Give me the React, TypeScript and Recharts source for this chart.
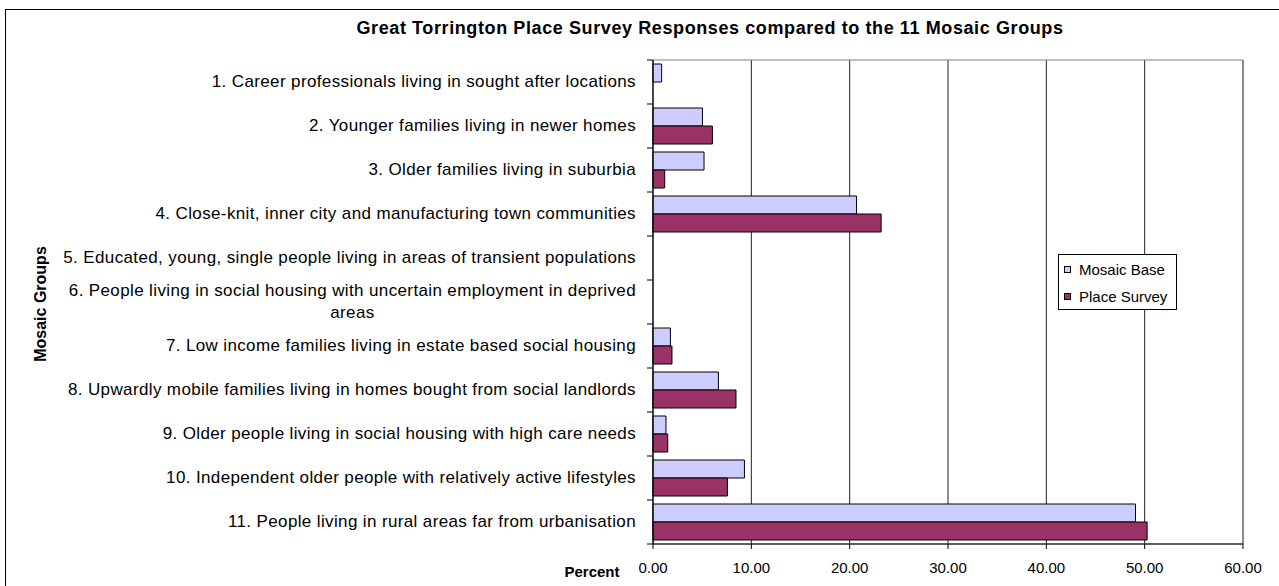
import React from 'react';
import {
  BarChart,
  Bar,
  XAxis,
  YAxis,
  CartesianGrid,
  ReferenceArea,
  Legend,
} from 'recharts';

const categories = [
  '1. Career professionals living in sought after locations',
  '2. Younger families living in newer homes',
  '3. Older families living in suburbia',
  '4. Close-knit, inner city and manufacturing town communities',
  '5. Educated, young, single people living in areas of transient populations',
  '6. People living in social housing with uncertain employment in deprived\nareas',
  '7. Low income families living in estate based social housing',
  '8. Upwardly mobile families living in homes bought from social landlords',
  '9. Older people living in social housing with high care needs',
  '10. Independent older people with relatively active lifestyles',
  '11. People living in rural areas far from urbanisation',
];

const mosaicBase = [0.88, 5.03, 5.19, 20.7, null, null, 1.77, 6.65, 1.32, 9.3, 49.07];
const placeSurvey = [null, 6.04, 1.19, 23.2, null, null, 1.93, 8.44, 1.5, 7.57, 50.25];

const xTicks = [0, 10, 20, 30, 40, 50, 60];

const seriesNames = ['Mosaic Base', 'Place Survey'];
const seriesColors = ['#CCCCFF', '#993366'];

const data = categories.map((name, i) => ({
  name,
  mosaic: mosaicBase[i],
  place: placeSurvey[i],
}));

const FONT = "'Liberation Sans', Arial, sans-serif";
const LABEL_SIZE = 17;
const LABEL_SPACING = 0.37;

let measureCtx: CanvasRenderingContext2D | null = null;
function measure(text: string): number {
  if (typeof document === 'undefined') return text.length * 8.5;
  if (!measureCtx) {
    const c = document.createElement('canvas');
    measureCtx = c.getContext('2d');
  }
  if (!measureCtx) return text.length * 8.5;
  measureCtx.font = `${LABEL_SIZE}px ${FONT}`;
  return measureCtx.measureText(text).width + text.length * LABEL_SPACING;
}

const YTick = (props: any) => {
  const { x, y, payload, index } = props;
  const half = payload && typeof payload.offset === 'number' && payload.offset > 0 ? payload.offset : 22;
  const lines: string[] = String(payload.value).split('\n');
  const right = x - 17;
  const widths = lines.map(measure);
  const maxW = Math.max(...widths);
  const cx = right - maxW / 2;
  const lineH = 22;
  const firstBaseline = y + 5 - ((lines.length - 1) * lineH) / 2;
  const isLast = index === categories.length - 1;
  return (
    <g>
      <line x1={x - 6} x2={x} y1={y - half} y2={y - half} stroke="#000" strokeWidth={1} />
      {isLast && <line x1={x - 6} x2={x} y1={y + half} y2={y + half} stroke="#000" strokeWidth={1} />}
      <text
        fontFamily={FONT}
        fontSize={LABEL_SIZE}
        fill="#000"
        style={{ letterSpacing: `${LABEL_SPACING}px` }}
      >
        {lines.map((ln, i) => (
          <tspan
            key={i}
            x={lines.length > 1 ? cx : right}
            y={firstBaseline + i * lineH}
            textAnchor={lines.length > 1 ? 'middle' : 'end'}
          >
            {ln}
          </tspan>
        ))}
      </text>
    </g>
  );
};

const LegendBox = (props: any) => {
  const payload = props.payload || [];
  return (
    <div
      style={{
        width: 119,
        height: 56,
        border: '1px solid #000',
        boxSizing: 'border-box',
        background: '#fff',
        position: 'relative',
        fontFamily: FONT,
        fontSize: 15,
        color: '#000',
      }}
    >
      {payload.map((p: any, i: number) => (
        <React.Fragment key={i}>
          <div
            style={{
              position: 'absolute',
              left: 5,
              top: 11 + i * 27.4,
              width: 7,
              height: 7,
              boxSizing: 'border-box',
              border: '1px solid #000',
              background: p.color,
            }}
          />
          <div
            style={{
              position: 'absolute',
              left: 20,
              top: 6 + i * 27.4,
              lineHeight: '17px',
              whiteSpace: 'nowrap',
            }}
          >
            {p.value}
          </div>
        </React.Fragment>
      ))}
    </div>
  );
};

export default function App() {
  return (
    <div
      style={{
        position: 'absolute',
        left: 0,
        top: 0,
        width: 1279,
        height: 586,
        overflow: 'hidden',
        background: '#fff',
      }}
    >
      <div
        style={{
          position: 'absolute',
          left: 5,
          top: 9,
          width: 1320,
          height: 620,
          border: '1px solid #000',
          boxSizing: 'border-box',
        }}
      />
      <div style={{ position: 'absolute', left: 0, top: 0 }}>
        <BarChart
          width={1279}
          height={586}
          data={data}
          layout="vertical"
          margin={{ top: 60, right: 36, bottom: 12, left: 13 }}
          barCategoryGap={4}
          barGap={0}
        >
          <CartesianGrid horizontal={false} vertical={true} stroke="#222" strokeWidth={1} />
          <ReferenceArea x1={0} x2={60} fill="none" stroke="#808080" strokeWidth={1} ifOverflow="visible" />
          <XAxis
            type="number"
            domain={[0, 60]}
            ticks={xTicks}
            interval={0}
            tickFormatter={(v: number) => v.toFixed(2)}
            axisLine={{ stroke: '#000' }}
            tickLine={{ stroke: '#000' }}
            tickSize={5}
            tickMargin={13}
            height={30}
            tick={{ fontFamily: FONT, fontSize: 15, fill: '#000' }}
          />
          <YAxis
            type="category"
            dataKey="name"
            width={640}
            interval={0}
            axisLine={{ stroke: '#000' }}
            tickLine={false}
            tickSize={0}
            tickMargin={0}
            tick={<YTick />}
          />
          <Legend
            layout="horizontal"
            verticalAlign="middle"
            align="center"
            content={<LegendBox />}
            wrapperStyle={{ position: 'absolute', left: 1058, top: 254, width: 119, height: 56 }}
          />
          <Bar
            dataKey="mosaic"
            name={seriesNames[0]}
            fill={seriesColors[0]}
            stroke="#000"
            strokeWidth={1}
            isAnimationActive={false}
          />
          <Bar
            dataKey="place"
            name={seriesNames[1]}
            fill={seriesColors[1]}
            stroke="#000"
            strokeWidth={1}
            isAnimationActive={false}
          />
        </BarChart>
      </div>
      <svg
        width={1279}
        height={586}
        style={{ position: 'absolute', left: 0, top: 0, pointerEvents: 'none' }}
      >
        <text
          x={710}
          y={34}
          textAnchor="middle"
          fontFamily={FONT}
          fontWeight="bold"
          fontSize={18}
          fill="#000"
          style={{ letterSpacing: '0.6px' }}
        >
          Great Torrington Place Survey Responses compared to the 11 Mosaic Groups
        </text>
        <text
          x={592}
          y={577}
          textAnchor="middle"
          fontFamily={FONT}
          fontWeight="bold"
          fontSize={15}
          fill="#000"
        >
          Percent
        </text>
        <text
          x={46}
          y={304}
          transform="rotate(-90, 46, 304)"
          textAnchor="middle"
          fontFamily={FONT}
          fontWeight="bold"
          fontSize={16}
          fill="#000"
        >
          Mosaic Groups
        </text>
      </svg>
    </div>
  );
}
